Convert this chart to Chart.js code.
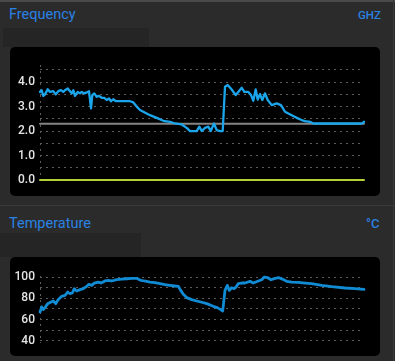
<!DOCTYPE html>
<html>
<head>
<meta charset="utf-8">
<script src="https://cdn.jsdelivr.net/npm/chart.js@4"></script>
<style>
    html, body { margin: 0; padding: 0; }
    body {
        width: 395px; height: 361px; overflow: hidden; position: relative;
        background: #2b2b2b; font-family: Roboto, "Open Sans", sans-serif;
    }
    .topline { position: absolute; left: 0; top: 0; width: 395px; height: 2px; background: #4a4a4a; }
    .rightline { position: absolute; left: 393px; top: 0; width: 1px; height: 361px; background: #3a3a3a; }
    .sep { position: absolute; left: 0; top: 205px; width: 395px; height: 1px; background: #3a3a3a; }
    .title { position: absolute; left: 9px; color: #2a82e4; font-size: 14.5px; }
    .unit { position: absolute; color: #2a82e4; font-size: 11.5px; font-weight: 500; }
    .shade { position: absolute; background: #252525; }
    .panel { position: absolute; left: 10px; width: 370px; background: #000; border-radius: 5px; }
    .panel canvas { position: absolute; left: 0; top: 0; }
</style>
</head>
<body>
<div class="topline"></div>
<div class="rightline"></div>
<div class="sep"></div>

<div class="title" style="top: 6px;">Frequency</div>
<div class="unit" style="left: 358px; top: 8px;">GHZ</div>
<div class="shade" style="left: 3px; top: 28px; width: 146px; height: 19px;"></div>
<div class="panel" style="top: 47px; height: 149px;">
    <canvas id="freqChart" width="370" height="149"></canvas>
</div>

<div class="title" style="top: 215px;">Temperature</div>
<div class="unit" style="left: 366px; top: 216px; font-size: 13px;">°C</div>
<div class="shade" style="left: 0; top: 233px; width: 141px; height: 24px;"></div>
<div class="panel" style="top: 257px; height: 99px;">
    <canvas id="tempChart" width="370" height="99"></canvas>
</div>

<script>
// Frequency (GHz) samples, time in seconds
const freqTime = [0, 1.7, 3.3, 5, 7.7, 10, 13.3, 15.7, 18.3, 21, 23.3, 25, 27.7, 30, 31.7, 33.3, 35, 37.7, 40, 41.7,
    44.3, 46.7, 49, 51, 52.3, 54.3, 56.7, 59, 61.7, 64.3, 66.7, 69, 71, 73.3, 75.7, 81.7, 90, 93.3, 96.7, 100,
    103.3, 110, 116.7, 123.3, 130, 135, 141.7, 146.7, 150, 156.7, 159.3, 161.7, 165, 168.3, 170.7, 174, 176.7, 180, 182.7, 185,
    187.7, 191.7, 195.7, 198.3, 201.7, 204.3, 208.3, 211, 213.3, 215.7, 217.7, 220, 222.3, 225, 227.7, 231.7, 236.7, 241, 245, 251.7,
    256.7, 261.7, 265, 270, 273.3, 278.3, 322, 324];
const freqGhz = [3.60, 3.67, 3.44, 3.50, 3.71, 3.60, 3.63, 3.50, 3.63, 3.67, 3.60, 3.67, 3.74, 3.63, 3.54, 3.67, 3.44, 3.60, 3.54, 3.60,
    3.54, 3.58, 3.63, 2.93, 3.47, 3.54, 3.40, 3.44, 3.36, 3.36, 3.27, 3.33, 3.22, 3.30, 3.22, 3.22, 3.22, 3.17, 3.00, 2.86,
    2.79, 2.65, 2.54, 2.42, 2.38, 2.31, 2.27, 2.13, 2.00, 2.00, 2.18, 2.00, 2.13, 2.18, 2.00, 2.31, 2.04, 2.00, 2.00, 3.81,
    3.88, 3.70, 3.47, 3.60, 3.77, 3.60, 3.60, 3.47, 3.24, 3.70, 3.29, 3.51, 3.27, 3.54, 3.27, 3.06, 3.13, 3.06, 2.79, 2.65,
    2.54, 2.45, 2.41, 2.38, 2.31, 2.31, 2.31, 2.38];

// reference lines of the frequency panel
const refTime = [0, 324];
const freqBase = [2.3, 2.3];
const freqZero = [0, 0];

// Temperature (°C) samples
const tempTime = [0, 1.7, 3.3, 5, 7.7, 11, 13.3, 15.7, 18.3, 21.7, 25, 27.7, 30, 32.3, 34.3, 36.7, 40, 43.3, 46.7, 49,
    51.7, 54.3, 58.3, 61, 65, 68.3, 71.7, 76.7, 81.7, 86.7, 91.7, 96.7, 100, 104.3, 110, 115, 120, 125, 130, 135,
    138.3, 140.7, 143.3, 146.7, 151.7, 156.7, 161.7, 166.7, 170, 173.3, 177.3, 180.7, 182.7, 185, 187.3, 189.3, 191.7, 194, 196, 198.3,
    201.7, 205, 210, 213.3, 218.3, 221.7, 224.3, 227.7, 231, 235, 239, 242.3, 246.7, 251.7, 258.3, 265, 271.7, 281.7, 291.7, 305,
    315, 324];
const tempC = [67.2, 71.9, 69.4, 71.3, 75.0, 76.6, 77.5, 75.0, 78.8, 81.9, 82.8, 85.9, 84.4, 85.0, 89.1, 86.9, 88.2, 89.1, 91.3, 93.2,
    92.2, 94.4, 95.3, 94.4, 96.3, 96.9, 96.3, 97.5, 98.1, 98.4, 98.8, 98.8, 97.2, 96.3, 95.3, 94.7, 93.8, 92.8, 92.2, 91.6,
    91.3, 87.5, 83.8, 80.7, 78.8, 77.5, 76.3, 75.0, 73.8, 72.5, 71.3, 69.4, 68.1, 87.5, 92.2, 87.5, 90.0, 89.1, 90.6, 93.8,
    94.4, 94.4, 96.0, 94.4, 96.3, 97.5, 100, 99.4, 97.5, 98.8, 99.4, 98.1, 96.0, 95.3, 95.0, 94.4, 93.8, 92.2, 91.0, 89.7,
    89.1, 88.5];

// y axis grid and labels
const freqGrid = [0, 0.5, 1, 1.5, 2, 2.5, 3, 3.5, 4, 4.5];
const freqLabels = [0, 1, 2, 3, 4];
const tempGrid = [40, 50, 60, 70, 80, 90, 100];
const tempLabels = [40, 60, 80, 100];

const GRID = '#5c5c5c';
const TICK = '#e4e4e4';

function points(xs, ys) {
    return xs.map((x, i) => ({ x: x, y: ys[i] }));
}

function baseOptions(o) {
    return {
        animation: false,
        responsive: false,
        events: [],
        plugins: { legend: { display: false }, tooltip: { enabled: false } },
        elements: { point: { radius: 0 }, line: { tension: 0, borderCapStyle: 'round', borderJoinStyle: 'round' } },
        layout: { padding: o.padding },
        scales: {
            x: {
                type: 'linear', min: 0, max: 324,
                ticks: { display: false },
                afterFit: s => { s.height = 0; },
                grid: { color: ctx => ctx.index === 0 ? GRID : 'transparent', drawTicks: false },
                border: { display: false, dash: [2, 4] }
            },
            y: {
                min: o.min, max: o.max,
                afterBuildTicks: s => { s.ticks = o.grid.map(v => ({ value: v })); },
                afterFit: s => { s.width = 30; },
                ticks: {
                    autoSkip: false,
                    padding: 5,
                    color: TICK,
                    font: { family: 'Roboto', size: 12, weight: '500' },
                    callback: v => o.labels.includes(v) ? o.fmt(v) : ''
                },
                grid: { color: GRID, drawTicks: false },
                border: { display: false, dash: [2, 4] }
            }
        }
    };
}

new Chart(document.getElementById('freqChart'), {
    type: 'line',
    data: {
        datasets: [
            { data: points(freqTime, freqGhz), borderColor: '#1ba6ec', borderWidth: 2.3, order: 0, clip: false },
            { data: points(refTime, freqBase), borderColor: '#858585', borderWidth: 2, order: 1, clip: false },
            { data: points(refTime, freqZero), borderColor: '#b3d034', borderWidth: 2, order: 2, clip: false }
        ]
    },
    options: baseOptions({
        min: 0, max: 4.7, grid: freqGrid, labels: freqLabels, fmt: v => v.toFixed(1),
        padding: { left: 0, right: 16, top: 18, bottom: 16 }
    })
});

new Chart(document.getElementById('tempChart'), {
    type: 'line',
    data: {
        datasets: [
            { data: points(tempTime, tempC), borderColor: '#108bd4', borderWidth: 2.8, clip: false }
        ]
    },
    options: baseOptions({
        min: 38, max: 101, grid: tempGrid, labels: tempLabels, fmt: v => String(v),
        padding: { left: 0, right: 16, top: 19, bottom: 13 }
    })
});
</script>
</body>
</html>
